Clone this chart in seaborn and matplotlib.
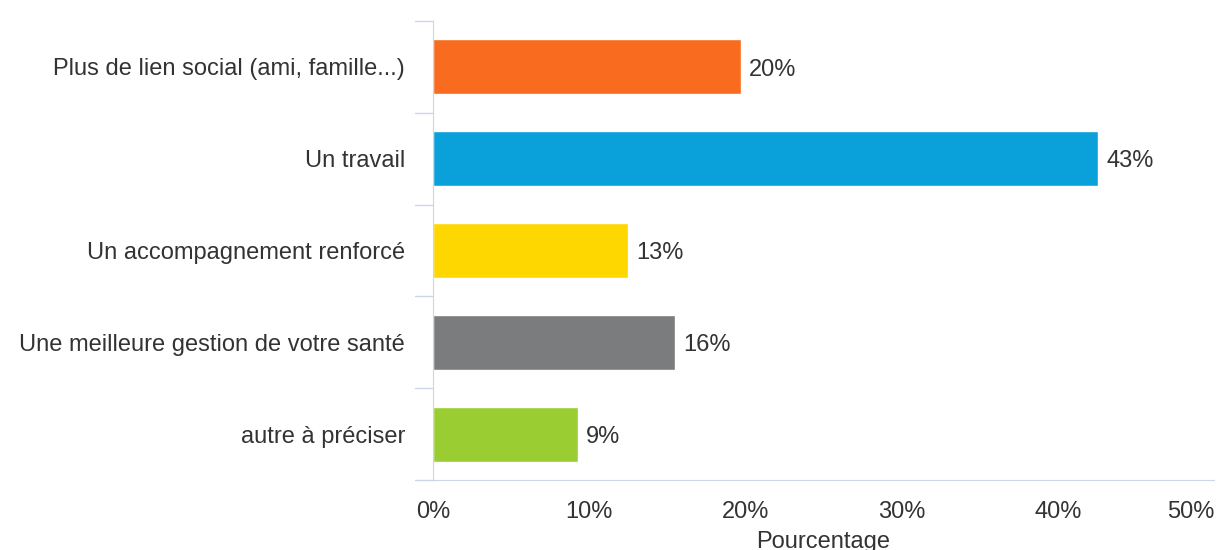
import matplotlib
matplotlib.use("Agg")
import matplotlib.pyplot as plt
import seaborn as sns
import pandas as pd

categories = ["Plus de lien social (ami, famille...)", "Un travail",
              "Un accompagnement renforcé", "Une meilleure gestion de votre santé",
              "autre à préciser"]
values = [19.7, 42.6, 12.5, 15.5, 9.3]
labels = ["20%", "43%", "13%", "16%", "9%"]
colors = ["#F96B1E", "#0AA1DA", "#FFD700", "#7B7C7E", "#9ACD32"]
xticks = [0, 10, 20, 30, 40, 50]

df = pd.DataFrame({"cat": categories, "val": values})

sns.set_style("white")
plt.rcParams["font.family"] = ["Liberation Sans", "DejaVu Sans"]

fs = 17
txt = "#333333"
fig = plt.figure(figsize=(12.26, 5.5), dpi=100)
ax = fig.add_axes([433 / 1226, 1 - 480 / 550, (1214 - 433) / 1226, (480 - 21) / 550])

sns.barplot(data=df, x="val", y="cat", hue="cat", palette=colors, legend=False,
            width=0.6, ax=ax, saturation=1)

for i, (v, lab) in enumerate(zip(values, labels)):
    ax.text(v + 0.5, i + 0.03, lab, va="center", ha="left", fontsize=fs, color=txt)

axis_col = "#CCD6EB"
ax.set_xlim(0, 50)
ax.set_ylim(4.5, -0.5)
ax.set_xticks(xticks)
ax.set_xticklabels([f"{t}%" for t in xticks], fontsize=fs, color=txt)
ax.get_xticklabels()[-1].set_horizontalalignment("right")
ax.set_yticks(range(len(categories)))
ax.set_yticklabels(categories, fontsize=fs, color=txt)
ax.tick_params(axis="y", length=0, pad=20)
ax.tick_params(axis="x", length=8, color=axis_col, width=1, pad=7)

# category boundary ticks on the left
for b in [-0.5, 0.5, 1.5, 2.5, 3.5, 4.5]:
    ax.plot([-1.15, 0], [b, b], color=axis_col, lw=1, clip_on=False)

for s in ["top", "right"]:
    ax.spines[s].set_visible(False)
ax.spines["left"].set_color(axis_col)
ax.spines["bottom"].set_color(axis_col)
ax.set_ylabel("")
ax.set_xlabel("Pourcentage", fontsize=fs, color=txt, labelpad=6)

fig.savefig("out.png", dpi=100)
